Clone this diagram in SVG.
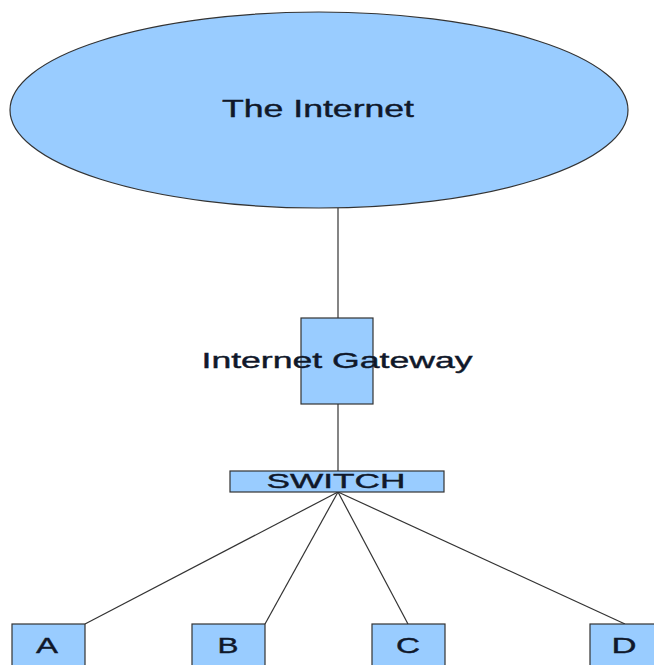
<svg xmlns="http://www.w3.org/2000/svg" width="654" height="665" viewBox="0 0 654 665">
<style>
.n{fill:#99ccff;stroke:#333333;stroke-width:1.2}
.t{font-family:"Liberation Sans",Arial,sans-serif;fill:#10182a;stroke:#10182a;stroke-width:0.4;text-anchor:middle;font-size:22px}
.c{stroke:#333333;stroke-width:1.2;fill:none}
</style>
<rect width="654" height="665" fill="#ffffff"/>
<g id="connectors">
<line class="c" x1="338" y1="208" x2="338" y2="318"/>
<line class="c" x1="338" y1="404" x2="338" y2="471"/>
<line class="c" x1="338" y1="492" x2="85" y2="624"/>
<line class="c" x1="338" y1="492" x2="265" y2="624"/>
<line class="c" x1="338" y1="492" x2="408" y2="624"/>
<line class="c" x1="338" y1="492" x2="625" y2="624"/>
</g>
<g id="internet">
<ellipse class="n" cx="319" cy="110" rx="309" ry="98"/>
<text class="t" x="318" y="117" style="font-size:23.5px" textLength="192" lengthAdjust="spacingAndGlyphs">The Internet</text>
</g>
<g id="gateway">
<rect class="n" x="301" y="318" width="72" height="86"/>
<text class="t" x="337" y="368" textLength="271" lengthAdjust="spacingAndGlyphs">Internet Gateway</text>
</g>
<g id="switch">
<rect class="n" x="230" y="471" width="214" height="21"/>
<text class="t" x="336" y="488" style="font-size:21px" textLength="139" lengthAdjust="spacingAndGlyphs">SWITCH</text>
</g>
<g id="A">
<rect class="n" x="12" y="624" width="73" height="50"/>
<text class="t" x="47" y="653" textLength="22" lengthAdjust="spacingAndGlyphs">A</text>
</g>
<g id="B">
<rect class="n" x="192" y="624" width="73" height="50"/>
<text class="t" x="228" y="653" textLength="21" lengthAdjust="spacingAndGlyphs">B</text>
</g>
<g id="C">
<rect class="n" x="372" y="624" width="73" height="50"/>
<text class="t" x="408" y="653" textLength="24" lengthAdjust="spacingAndGlyphs">C</text>
</g>
<g id="D">
<rect class="n" x="590" y="624" width="73" height="50"/>
<text class="t" x="624" y="653" textLength="25" lengthAdjust="spacingAndGlyphs">D</text>
</g>
</svg>
